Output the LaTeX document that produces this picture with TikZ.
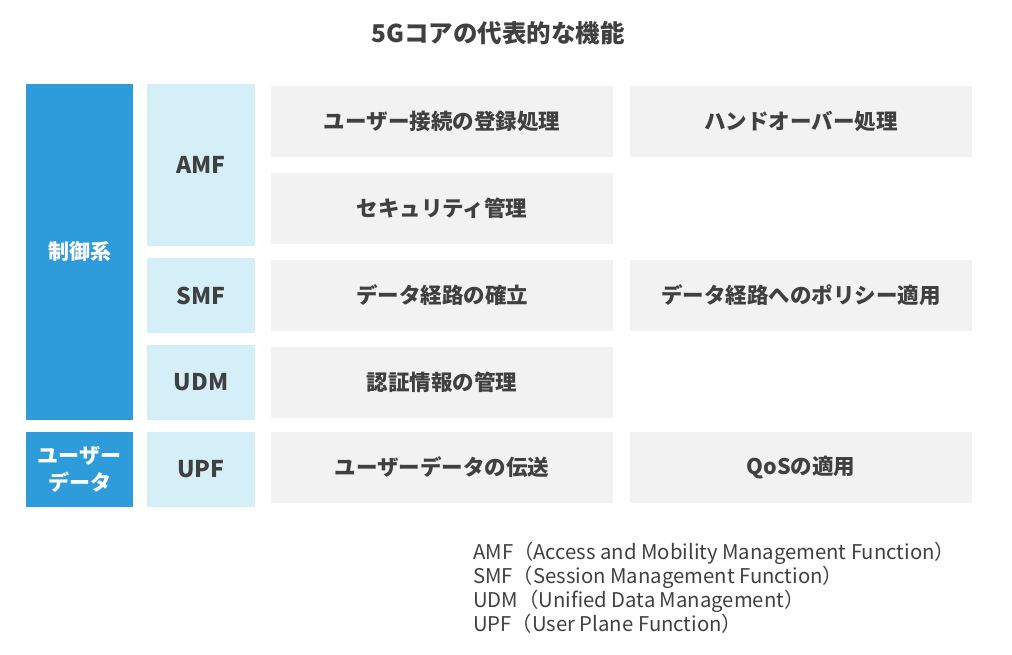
\documentclass[tikz,border=0pt]{standalone}
\usepackage{fontspec}
\setmainfont{Noto Sans CJK JP}
\definecolor{dblue}{HTML}{2E9BDA}
\definecolor{lblue}{HTML}{D5EFF8}
\definecolor{lgray}{HTML}{F2F2F2}
\definecolor{txt}{HTML}{404040}
\begin{document}
\begin{tikzpicture}[x=1pt,y=-1pt,
  dbox/.style={text=white,font=\fontsize{21}{27}\selectfont\bfseries,align=center},
  lbox/.style={text=txt,font=\fontsize{23}{27}\selectfont\bfseries},
  gbox/.style={text=txt,font=\fontsize{21.5}{25}\selectfont\bfseries},
  ]
\useasboundingbox (0,0) rectangle (1012,655);
\node[font=\fontsize{24.5}{28}\selectfont\bfseries,text=txt] (t) at (498,33) {5Gコアの代表的な機能};
% left
\fill[dblue] (26,84) rectangle (133,420); \node[dbox] (c) at (79.5,252) {制御系};
\fill[dblue] (26,432) rectangle (133,507); \node[dbox] (u) at (79.5,469.5) {ユーザー\\データ};
\fill[lblue] (147,84) rectangle (255,246); \node[lbox] (amf) at (201,165) {AMF};
\fill[lblue] (147,258) rectangle (255,333); \node[lbox] (smf) at (201,295.5) {SMF};
\fill[lblue] (147,345) rectangle (255,420); \node[lbox] (udm) at (201,382.5) {UDM};
\fill[lblue] (147,432) rectangle (255,507); \node[lbox] (upf) at (201,469.5) {UPF};
% gray
\foreach \x/\y/\t/\n in {271/86/ユーザー接続の登録処理/g1, 630/86/ハンドオーバー処理/g2,
  271/173/セキュリティ管理/g3, 271/260/データ経路の確立/g4, 630/260/データ経路へのポリシー適用/g5,
  271/347/認証情報の管理/g6, 271/432/ユーザーデータの伝送/g7, 630/432/QoSの適用/g8}{
  \fill[lgray] (\x,\y) rectangle ++(342,71);
  \node[gbox] (\n) at (\x+171,\y+35.5) {\t};
}
\foreach \y/\t/\n in {553/AMF（Access and Mobility Management Function）/l1,
  577/SMF（Session Management Function）/l2,
  601/UDM（Unified Data Management）/l3,
  624/UPF（User Plane Function）/l4}{
  \node[anchor=west,text=txt,font=\fontsize{20.3}{22}\selectfont,inner sep=0] (\n) at (473,\y) {\t};
}
\end{tikzpicture}
\end{document}
